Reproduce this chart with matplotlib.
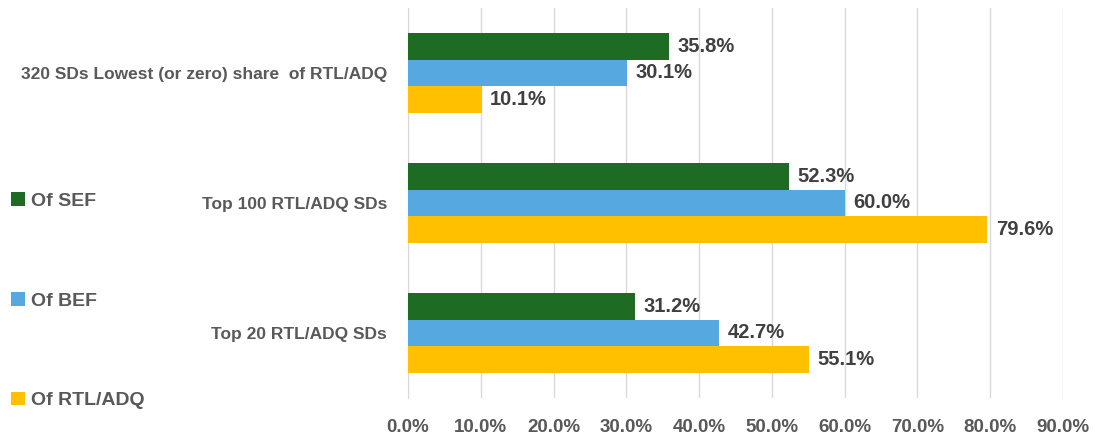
import numpy as np
import matplotlib.pyplot as plt
from matplotlib.ticker import FuncFormatter

plt.rcParams['font.family'] = ['Liberation Sans', 'DejaVu Sans']

categories = ["Top 20 RTL/ADQ SDs", "Top 100 RTL/ADQ SDs", "320 SDs Lowest (or zero) share  of RTL/ADQ"]
series_names = ["Of SEF", "Of BEF", "Of RTL/ADQ"]
of_sef = [31.2, 52.3, 35.8]
of_bef = [42.7, 60.0, 30.1]
of_rtl = [55.1, 79.6, 10.1]
xticks = [0, 10, 20, 30, 40, 50, 60, 70, 80, 90]

colors = ["#1E6B24", "#56A8E0", "#FFC000"]

fig = plt.figure(figsize=(10.96, 4.37), dpi=100)
ax = fig.add_axes([408 / 1096, 1 - 398 / 437, (1063 - 408) / 1096, 390 / 437])

y = np.arange(len(categories))
h = 0.205
bars = []
for i, (vals, name) in enumerate(zip([of_sef, of_bef, of_rtl], series_names)):
    b = ax.barh(y + (1 - i) * h, vals, height=h, color=colors[i], label=name, zorder=3)
    bars.append(b)
    for yy, v in zip(y + (1 - i) * h, vals):
        ax.text(v + 1.2, yy, f"{v:.1f}%", va="center", ha="left",
                fontsize=14.5, fontweight="bold", color="#404040")

ax.set_xlim(0, 90)
ax.set_ylim(-0.5, 2.5)
ax.set_xticks(xticks)
ax.xaxis.set_major_formatter(FuncFormatter(lambda v, p: f"{v:.1f}%"))
ax.set_yticks(y)
ax.set_yticklabels(categories)
ax.grid(axis="x", color="#D9D9D9", linewidth=1, zorder=0)
for s in ["top", "right", "bottom"]:
    ax.spines[s].set_visible(False)
ax.spines["left"].set_color("#D9D9D9")
ax.tick_params(axis="both", length=0)
ax.tick_params(axis="x", pad=15, labelsize=13.5, labelcolor="#595959")
ax.tick_params(axis="y", pad=15, labelsize=12.5, labelcolor="#595959")
for t in ax.get_xticklabels() + ax.get_yticklabels():
    t.set_fontweight("bold")

leg = fig.legend(handles=bars, labels=series_names, loc="upper left",
                 bbox_to_anchor=(-0.006, 1 - 175 / 437), frameon=False,
                 handlelength=0.7, handleheight=0.7, handletextpad=0.35,
                 labelspacing=4.22, prop={"size": 14, "weight": "bold"})
for t in leg.get_texts():
    t.set_color("#595959")

fig.savefig("out.png", dpi=100)
